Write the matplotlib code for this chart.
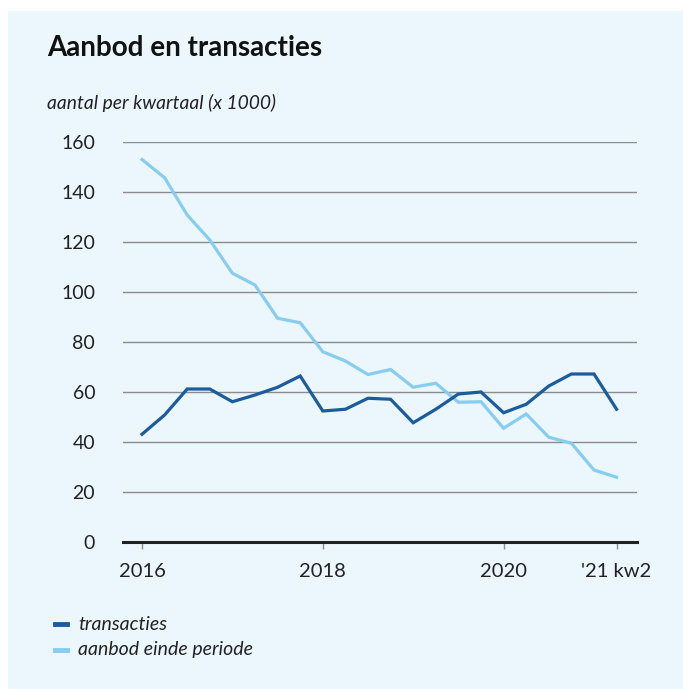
import matplotlib.pyplot as plt
from matplotlib.patches import Rectangle

# quarterly data 2016 Q1 - 2021 Q2 (x 1000)
quarters = list(range(22))
transacties = [43.1, 50.8, 61.2, 61.2, 56.1, 58.8, 61.9, 66.4, 52.4, 53.1, 57.5,
               57.1, 47.7, 53.1, 59.2, 60.0, 51.7, 55.1, 62.4, 67.2, 67.2, 53.1]
aanbod = [153.0, 145.7, 130.8, 120.8, 107.5, 102.8, 89.5, 87.7, 76.1, 72.4, 67.0,
          69.0, 61.9, 63.5, 55.9, 56.1, 45.5, 51.2, 41.9, 39.5, 28.8, 25.9]
x_ticks = [0, 8, 16, 21]
x_labels = ['2016', '2018', '2020', "'21 kw2"]
y_ticks = [0, 20, 40, 60, 80, 100, 120, 140, 160]

plt.rcParams['font.family'] = ['Lato', 'DejaVu Sans']

bg = '#ecf6fd'
dark = '#1a5c9e'
light = '#86cdf0'

fig = plt.figure(figsize=(6.83, 6.89), dpi=100)
fig.patch.set_facecolor('white')
# light panel behind everything
fig.patches.append(Rectangle((8 / 683, 0), 1, 1 - 11 / 689, transform=fig.transFigure,
                             facecolor=bg, edgecolor='none', zorder=-10))

W, H = 683, 689
left, right = 123, 637
top, bottom = 142, 542
ax = fig.add_axes([left / W, 1 - bottom / H, (right - left) / W, (bottom - top) / H])
ax.set_zorder(1)
ax.set_facecolor('none')

ax.plot(quarters, aanbod, color=light, lw=2.3, solid_joinstyle='miter', zorder=3,
        label='aanbod einde periode')
ax.plot(quarters, transacties, color=dark, lw=2.3, solid_joinstyle='miter', zorder=4,
        label='transacties')

step = 22.6
ax.set_xlim((left - 142) / step, (right - 142) / step)
ax.set_ylim(0, 160)

for v in y_ticks[1:]:
    ax.axhline(v, color='#8c8c8c', lw=1, zorder=1)
ax.axhline(0, color='#222222', lw=2.2, zorder=5, clip_on=False)

for s in ax.spines.values():
    s.set_visible(False)

ax.set_yticks(y_ticks)
ax.set_yticklabels([str(v) for v in y_ticks])
ax.tick_params(axis='y', length=0, pad=20, labelsize=14, labelcolor='#222222')
ax.set_xticks(x_ticks)
ax.set_xticklabels(x_labels)
ax.tick_params(axis='x', length=5, width=1, color='#8c8c8c', pad=10, labelsize=14.5,
               labelcolor='#222222')

fig.text(47 / W, 1 - 48 / H, 'Aanbod en transacties', fontsize=20, fontweight='bold',
         color='#111111', va='center', ha='left')
fig.text(47 / W, 1 - 103 / H, 'aantal per kwartaal (x 1000)', fontsize=13.9,
         style='italic', color='#222222', va='center', ha='left')

# legend entries
for i, (name, col) in enumerate([('transacties', dark), ('aanbod einde periode', light)]):
    y = 1 - (624 + 26 * i) / H
    fig.add_artist(plt.Line2D([55 / W, 67 / W], [y, y], color=col, lw=3.5,
                              transform=fig.transFigure))
    fig.text(78 / W, y, name, fontsize=14, style='italic', color='#222222',
             va='center', ha='left')

fig.savefig('out.png', dpi=100, facecolor=fig.get_facecolor())
